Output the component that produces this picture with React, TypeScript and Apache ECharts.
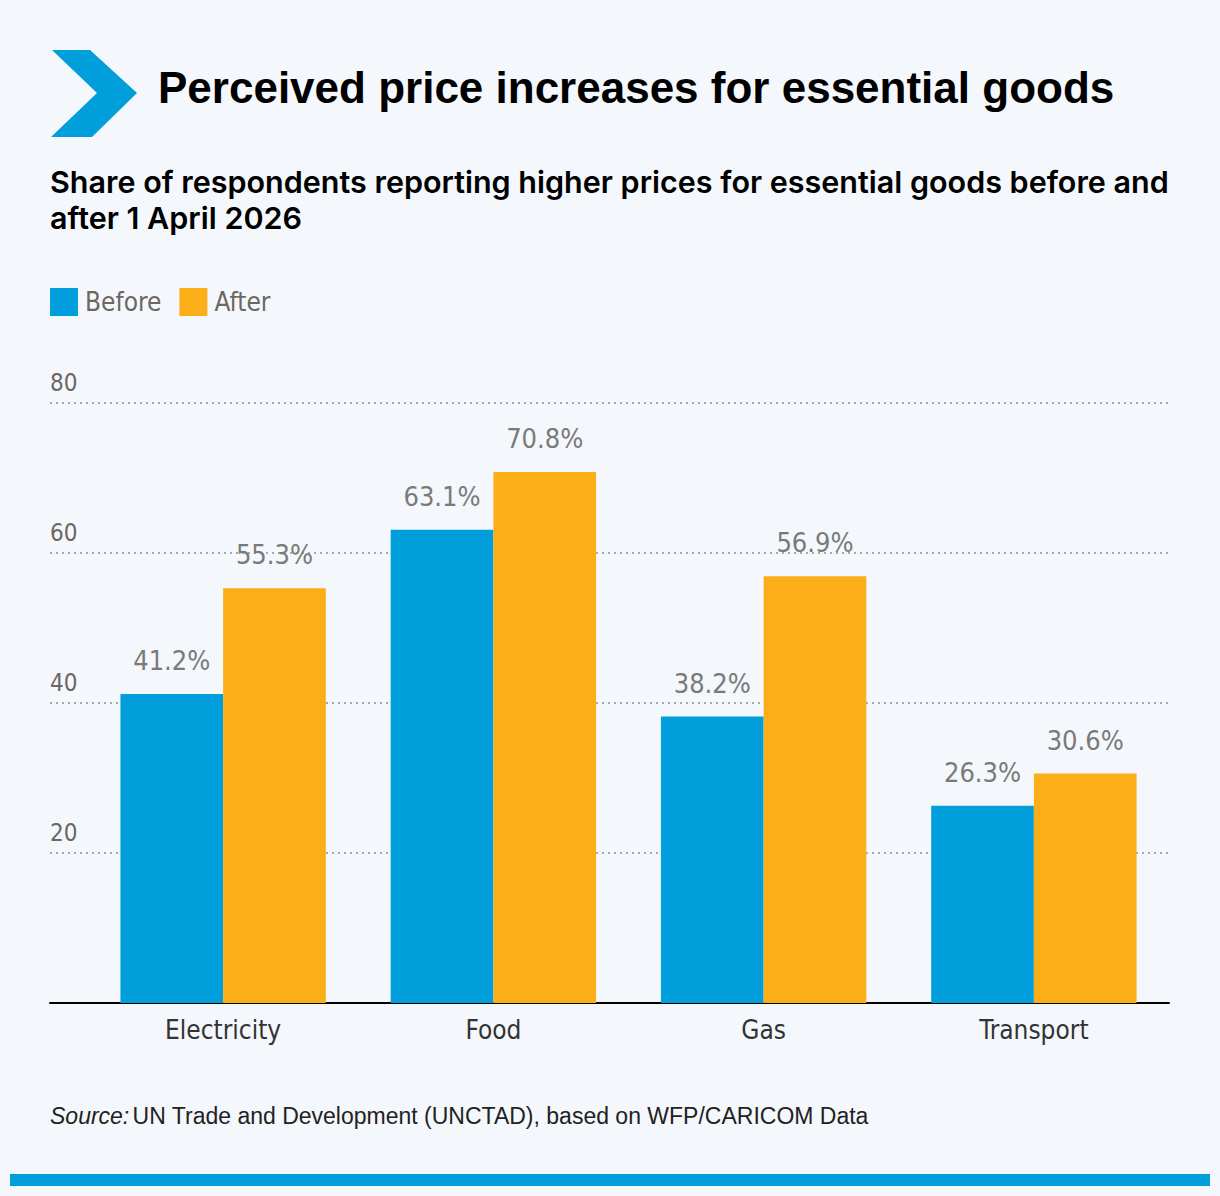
import React, { useEffect, useRef } from 'react'
import * as echarts from 'echarts'

const categories = ['Electricity', 'Food', 'Gas', 'Transport']
const beforeValues = [41.2, 63.1, 38.2, 26.3]
const afterValues = [55.3, 70.8, 56.9, 30.6]
const seriesNames = ['Before', 'After']

const BLUE = '#009edb'
const ORANGE = '#fbae17'
const BG = '#f4f8fc'
const NARROW = "'Liberation Sans Narrow', 'DejaVu Sans Condensed', 'Roboto Condensed', sans-serif"
const SANS = "'Liberation Sans', Arial, Helvetica, sans-serif"

const App = () => {
    const chartRef = useRef<HTMLDivElement>(null)

    useEffect(() => {
        document.body.style.margin = '0'
        if (!chartRef.current) return
        const myChart = echarts.init(chartRef.current, null, { renderer: 'svg' })

        const barLabel = {
            show: true,
            position: 'top',
            distance: 20,
            color: '#7a7a7a',
            fontFamily: NARROW,
            fontSize: 27,
            formatter: (p: any) => `${p.value}%`,
        }

        const option = {
            animation: false,
            backgroundColor: BG,
            legend: {
                left: 50,
                top: 288,
                padding: 0,
                icon: 'rect',
                itemWidth: 28,
                itemHeight: 28,
                itemGap: 18,
                textStyle: { color: '#6e6661', fontFamily: NARROW, fontSize: 26, padding: [0, 0, 0, 2] },
                data: seriesNames,
            },
            grid: [
                { left: 88, right: 51, top: 403, height: 600 },
                { left: 50, right: 51, top: 403, height: 600 },
            ],
            xAxis: [
                {
                    type: 'category',
                    gridIndex: 0,
                    data: categories,
                    axisLine: { show: false },
                    axisTick: { show: false },
                    axisLabel: { color: '#333', fontFamily: NARROW, fontSize: 26, margin: 14 },
                },
                {
                    type: 'value',
                    gridIndex: 1,
                    min: 0,
                    max: 1,
                    axisLine: { show: true, lineStyle: { color: '#000', width: 2 } },
                    axisTick: { show: false },
                    axisLabel: { show: false },
                    splitLine: { show: false },
                },
            ],
            yAxis: [
                {
                    type: 'value',
                    gridIndex: 0,
                    min: 0,
                    max: 80,
                    interval: 20,
                    axisLabel: { show: false },
                    axisLine: { show: false },
                    axisTick: { show: false },
                    splitLine: { show: false },
                },
                {
                    type: 'value',
                    gridIndex: 1,
                    min: 0,
                    max: 80,
                    interval: 20,
                    axisLine: { show: false },
                    axisTick: { show: false },
                    axisLabel: {
                        inside: true,
                        showMinLabel: false,
                        margin: 0,
                        align: 'left',
                        verticalAlign: 'bottom',
                        padding: [0, 0, 8, 0],
                        color: '#6e6661',
                        fontFamily: NARROW,
                        fontSize: 24,
                    },
                    splitLine: { show: true, lineStyle: { color: '#a9a9a9', type: [2, 4], width: 2 } },
                },
            ],
            series: [
                {
                    name: seriesNames[0],
                    type: 'bar',
                    xAxisIndex: 0,
                    yAxisIndex: 0,
                    data: beforeValues,
                    itemStyle: { color: BLUE },
                    barGap: '0%',
                    barCategoryGap: '24%',
                    label: barLabel,
                    z: 3,
                },
                {
                    name: seriesNames[1],
                    type: 'bar',
                    xAxisIndex: 0,
                    yAxisIndex: 0,
                    data: afterValues,
                    itemStyle: { color: ORANGE },
                    barGap: '0%',
                    barCategoryGap: '24%',
                    label: barLabel,
                    z: 3,
                },
            ],
            graphic: [
                {
                    type: 'polygon',
                    shape: {
                        points: [
                            [52, 50],
                            [90, 50],
                            [137, 93],
                            [92, 137],
                            [51, 137],
                            [97, 93],
                        ],
                    },
                    style: { fill: BLUE },
                },
                {
                    type: 'text',
                    left: 158,
                    top: 65,
                    style: {
                        text: 'Perceived price increases for essential goods',
                        fill: '#000',
                        font: `bold 44px ${SANS}`,
                    },
                },
                {
                    type: 'text',
                    left: 50,
                    top: 163,
                    style: {
                        text: 'Share of respondents reporting higher prices for essential goods before and\nafter 1 April 2026',
                        fill: '#000',
                        font: `600 30.5px Inter, ${SANS}`,
                        lineHeight: 36,
                    },
                },
                {
                    type: 'text',
                    left: 50,
                    top: 1104,
                    style: {
                        rich: {
                            i: { fontStyle: 'italic', fontFamily: SANS, fontSize: 23, fill: '#222' },
                            r: { fontFamily: SANS, fontSize: 23, fill: '#222' },
                        },
                        text: '{i|Source:} {r|UN Trade and Development (UNCTAD), based on WFP/CARICOM Data}',
                    },
                },
                {
                    type: 'rect',
                    shape: { x: 10, y: 1174, width: 1200, height: 12 },
                    style: { fill: BLUE },
                },
            ],
        }

        try {
            myChart.setOption(option)
        } catch (err) {
            console.error('Error setting chart options:', err)
        }

        return () => {
            myChart.dispose()
        }
    }, [])

    return <div ref={chartRef} style={{ width: '1220px', height: '1196px' }} />
}

export default App
